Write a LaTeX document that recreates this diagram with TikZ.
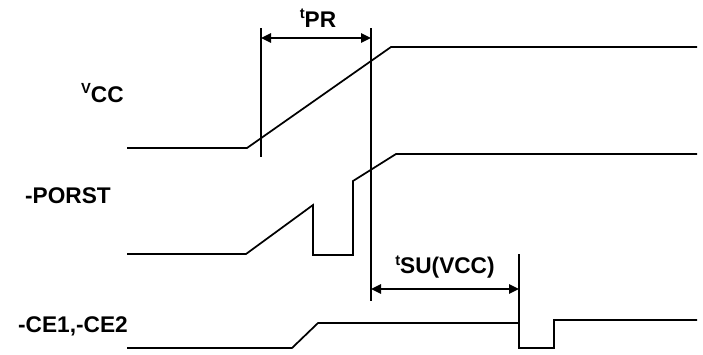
\documentclass[tikz,border=0pt]{standalone}
\usepackage{fontspec}
\setmainfont{Liberation Sans}
\usetikzlibrary{arrows.meta}

\tikzset{
  wave/.style={line width=1.3pt, line join=miter},
  marker/.style={line width=1.3pt},
  span/.style={line width=1.3pt, {Triangle[length=7.5pt,width=7pt]}-{Triangle[length=7.5pt,width=7pt]}},
  signame/.style={font=\fontsize{17}{19}\selectfont\bfseries, inner sep=0pt},
  timename/.style={font=\fontsize{17}{19}\selectfont\bfseries, inner sep=0pt}
}
\newcommand{\pre}[1]{\raisebox{0.38em}{\fontsize{11}{11}\selectfont #1}}

\begin{document}
\begin{tikzpicture}[x=0.75pt,y=-0.75pt]
\useasboundingbox (0,0) rectangle (703,354);

% signal names
\node [signame, anchor=east] (vcc) at (124,93) {\pre{V}CC};
\node [signame, anchor=east] (porst) at (111,196) {-PORST};
\node [signame, anchor=east] (ce) at (128,326) {-CE1,-CE2};

% VCC
\draw [wave] (127,148) -- (247,148) -- (391,47) -- (697,47);
% -PORST
\draw [wave] (127,254) -- (246,254) -- (313,205) -- (313,255) -- (353,255)
  -- (353,181) -- (396,154) -- (697,154);
% -CE1,-CE2
\draw [wave] (127,348) -- (292,348) -- (318,323) -- (519,323) -- (519,348)
  -- (554,348) -- (554,320) -- (697,320);

% timing markers
\coordinate (m1top) at (261,28);
\coordinate (m1bot) at (261,157);
\coordinate (m2top) at (371,28);
\coordinate (m2bot) at (371,301);
\coordinate (m3top) at (519,254);
\coordinate (m3bot) at (519,323);
\draw [marker] (m1top) -- (m1bot);
\draw [marker] (m2top) -- (m2bot);
\draw [marker] (m3top) -- (m3bot);

% tPR
\coordinate (pr1) at (261,38);
\coordinate (pr2) at (371,38);
\draw [span] (pr1) -- (pr2);
\node [timename] (tpr) at (318,18) {\pre{t}PR};

% tSU(VCC)
\coordinate (su1) at (371,289);
\coordinate (su2) at (519,289);
\draw [span] (su1) -- (su2);
\node [timename] (tsu) at (445,267) {\pre{t}SU(VCC)};
\end{tikzpicture}
\end{document}
